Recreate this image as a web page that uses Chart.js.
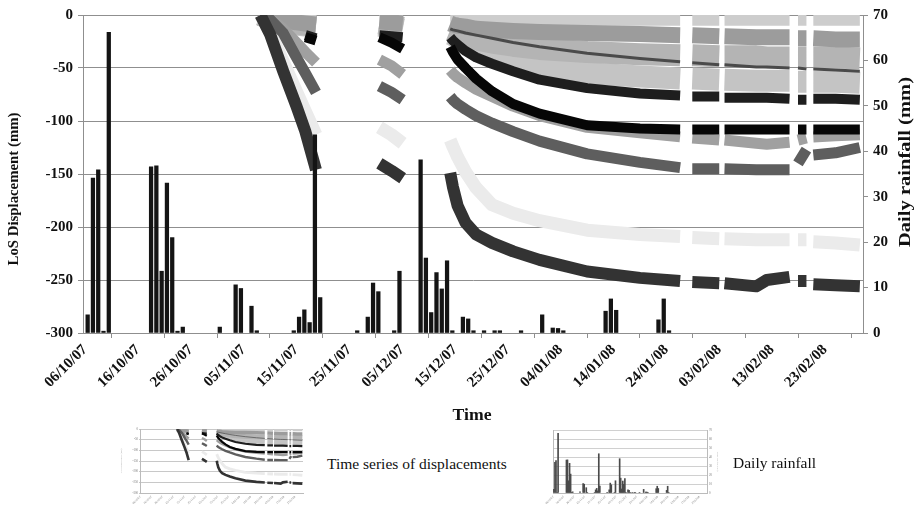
<!DOCTYPE html>
<html>
<head>
<meta charset="utf-8">
<script src="https://cdn.jsdelivr.net/npm/chart.js@4.4.1/dist/chart.umd.min.js"></script>
<style>
body{margin:0;background:#fff;width:921px;height:508px;overflow:hidden;position:relative;font-family:"Liberation Serif",serif;}
canvas{position:absolute;}
#main{left:0;top:0;}
#thumbDisp{left:118px;top:424px;}
#thumbRain{left:540px;top:424px;}
.cap{position:absolute;font-size:15.5px;color:#111;white-space:nowrap;}
</style>
</head>
<body>
<canvas id="main" width="921" height="430"></canvas>
<canvas id="thumbDisp" width="192" height="84"></canvas>
<div class="cap" style="left:327px;top:455px">Time series of displacements</div>
<canvas id="thumbRain" width="180" height="84"></canvas>
<div class="cap" style="left:733px;top:454px">Daily rainfall</div>
<script>
// x axis: days counted from 06/10/07
const tickDays = [0,10,20,30,40,50,60,70,80,90,100,110,120,130,140];
const tickLabels = ['06/10/07','16/10/07','26/10/07','05/11/07','15/11/07','25/11/07','05/12/07','15/12/07',
	'25/12/07','04/01/08','14/01/08','24/01/08','03/02/08','13/02/08','23/02/08'];
const dayMin = -0.38, dayMax = 147.2;

// daily rainfall (mm)
const rainDays = [0,1,2,3,4,12,13,14,15,16,17,18,25,28,29,31,32,39,40,41,42,43,44,51,53,54,55,58,59,
	63,64,65,66,67,68,69,71,72,73,75,77,78,82,86,88,89,90,98,99,100,108,109,110];
const rainMm = [4.0,34.1,35.9,0.4,66.2,36.6,36.8,13.6,33.0,21.0,0.4,1.3,1.3,10.6,9.8,5.9,0.5,0.5,3.5,5.1,2.3,43.6,7.8,0.5,
	3.5,11.0,9.1,0.5,13.6,38.1,16.5,4.5,13.3,9.7,15.9,0.5,3.5,3.1,0.5,0.5,0.5,0.5,0.5,4.0,1.1,1.0,0.5,4.8,7.5,5.0,2.9,7.5,0.5];

// LoS displacement (mm), sampled on these days; null = no acquisition
const dispDays = [33.2,35,37.5,40,41.7,43.7, 50, 55.7,58,60.1, 65,
	69.1,69.6,70.5,72,74,77,81,86,95,105,112.6, 113.7, 114.9,120, 120.5, 121,127,129,133.3, 134.1, 134.9,136.5, 137.1, 137.8,142,146.6];
const s1 = [-2,-3,-3,-4,-4,-4, null, -3,-3,-4, null, -3,-3,-3,-3,-4,-4,-4,-4,-4,-4,-4, null, -4,-4, null, -4,-4,-4,-4, null, -4,-4, null, -4,-4,-4];
const s2 = [0,-3,-5,-7,-8,-9, null, -6,-7,-8, null, -8,-9,-10,-11,-13,-14,-15,-16,-17,-18,-19, null, -19,-20, null, -20,-21,-21,-21, null, -22,-22, null, -22,-23,-23];
const s3 = [null,null,null,null,null,null, null, null,null,null, null, -13,-14,-15,-17,-19,-22,-26,-30,-36,-41,-44, null, -45,-47, null, -47,-49,-49,-50, null, -50,-51, null, -51,-52,-53];
const s4a = [0,-3,-6,-8,-9,-10, null, -8,-10,-12, null, -14,-15,-17,-20,-23,-26,-29,-32,-35,-37,-38, null, -38,-39, null, -39,-39,-40,-40, null, -40,-40, null, -40,-40,-41];
const s4b = [0,-4,-7,-9,-10,-11, null, -10,-12,-14, null, -18,-19,-22,-26,-31,-37,-44,-50,-55,-58,-60, null, -60,-61, null, -61,-62,-62,-62, null, -63,-63, null, -63,-63,-64];
const s5 = [null,null,null,null,-19,-22, null, -19,-20,-21, null, -21,-24,-28,-34,-40,-46,-53,-61,-69,-74,-76, null, -77,-77, null, -78,-78,-78,-79, null, -80,-80, null, -79,-79,-80];
const s6 = [null,null,null,null,-21,-24, null, -21,-26,-32, null, -30,-35,-42,-50,-60,-72,-84,-93,-104,-107,-108, null, -108,-108, null, -108,-108,-108,-108, null, -108,-108, null, -108,-108,-108];
const s7 = [0,-3,-13,-26,-35,-45, null, -42,-48,-56, null, -52,-55,-59,-64,-70,-77,-86,-95,-106,-111,-115, null, -116,-118, null, -118,-121,-122,-120, null, -118,-116, null, -115,-114,-113];
const s8 = [0,-4,-17,-40,-55,-73, null, -67,-73,-80, null, -77,-80,-84,-89,-95,-102,-110,-119,-131,-139,-144, null, -145,-145, null, -145,-146,-146,-146, null, -140,-127, null, -132,-130,-125];
const s9 = [0,-16,-44,-72,-91,-113, null, -106,-113,-121, null, -118,-124,-134,-148,-163,-179,-187,-194,-203,-207,-209, null, -210,-211, null, -211,-212,-212,-212, null, -212,-212, null, -214,-215,-217];
const s10 = [0,-18,-53,-86,-110,-146, null, -140,-147,-154, null, -149,-162,-180,-196,-207,-215,-223,-231,-242,-248,-251, null, -252,-253, null, -253,-256,-250,-247, null, -251,-251, null, -254,-255,-256];

// drawing styles, first one ends up on top
const seriesList = [
	{data:s3, color:'#4a4a4a', width:3},
	{data:s6, color:'#060606', width:10},
	{data:s5, color:'#1e1e1e', width:10},
	{data:s10, color:'#333333', width:12},
	{data:s8, color:'#5e5e5e', width:11},
	{data:s7, color:'#a0a0a0', width:11},
	{data:s9, color:'#ebebeb', width:13},
	{data:s2, color:'#9c9c9c', width:16},
	{data:s1, color:'#cdcdcd', width:13},
	{data:s4a, color:'#b4b4b4', width:22},
	{data:s4b, color:'#c4c4c4', width:22}
];

Chart.defaults.font.family = '"Liberation Serif", serif';

function toPoints(vals){
	return dispDays.map((d,i)=>({x:d, y:vals[i]}));
}
function rainPoints(){
	return rainDays.map((d,i)=>({x:d+0.5, y:rainMm[i]}));
}
function dateTick(v){
	let i = tickDays.indexOf(v);
	return i<0 ? '' : tickLabels[i];
}
function setDateTicks(scale){
	scale.ticks = tickDays.map(v=>({value:v}));
}

function drawTitle(ctx, text, x, y, rot, len, font){
	ctx.save();
	ctx.font = font;
	ctx.fillStyle = '#111';
	ctx.textAlign = 'center';
	ctx.textBaseline = 'middle';
	ctx.translate(x, y);
	ctx.rotate(rot);
	let w = ctx.measureText(text).width;
	ctx.scale(len/w, 1);
	ctx.fillText(text, 0, 0);
	ctx.restore();
}
const axisTitles = {
	id:'axisTitles',
	afterDraw(chart){
		let ctx = chart.ctx;
		drawTitle(ctx, 'LoS Displacement (mm)', 14, 189, -Math.PI/2, 153, 'bold 15px "Liberation Serif"');
		drawTitle(ctx, 'Daily rainfall (mm)', 906, 162, -Math.PI/2, 170, 'bold 16px "Liberation Serif"');
		drawTitle(ctx, 'Time', 472, 416, 0, 39, 'bold 17px "Liberation Serif"');
	}
};

const gridGray = '#8f8f8f';
const boldTick = {family:'"Liberation Serif", serif', weight:'bold', size:15};

let mainSets = [{
	type:'bar', data:rainPoints(), yAxisID:'y2',
	backgroundColor:'#141414', borderWidth:0, barThickness:3.6
}];
seriesList.forEach(s=>{
	mainSets.push({
		type:'line', data:toPoints(s.data), yAxisID:'y',
		borderColor:s.color, borderWidth:s.width, pointRadius:0,
		borderJoinStyle:'round', borderCapStyle:'butt', spanGaps:false, clip:0
	});
});

new Chart(document.getElementById('main'), {
	type:'line',
	data:{datasets:mainSets},
	plugins:[axisTitles],
	options:{
		responsive:false, animation:false, events:[],
		layout:{padding:{top:15, left:0, right:0, bottom:0}},
		plugins:{legend:{display:false}, tooltip:{enabled:false}},
		scales:{
			x:{
				type:'linear', min:dayMin, max:dayMax, offset:false,
				afterBuildTicks:setDateTicks,
				afterFit:(s)=>{ s.height = 97; },
				ticks:{callback:dateTick, autoSkip:false, minRotation:45, maxRotation:45, padding:3,
					color:'#111', font:{family:'"Liberation Serif", serif', weight:'bold', size:15}},
				grid:{drawOnChartArea:false, tickLength:5, color:gridGray},
				border:{color:gridGray}
			},
			y:{
				position:'left', min:-300, max:0,
				afterFit:(s)=>{ s.width = 83; },
				ticks:{stepSize:50, padding:5, color:'#111', font:boldTick},
				grid:{color:gridGray, tickLength:5},
				border:{color:gridGray}
			},
			y2:{
				position:'right', min:0, max:70,
				afterFit:(s)=>{ s.width = 58; },
				ticks:{stepSize:10, padding:5, color:'#111', font:boldTick},
				grid:{drawOnChartArea:false, tickLength:5, color:gridGray},
				border:{color:gridGray}
			}
		}
	}
});

// small legend pictures
const tinyTick = {size:3};
new Chart(document.getElementById('thumbDisp'), {
	type:'line',
	data:{datasets:seriesList.map(s=>({
		data:toPoints(s.data), borderColor:s.color, borderWidth:Math.max(0.7, s.width*0.22),
		pointRadius:0, spanGaps:false, clip:0
	}))},
	options:{
		responsive:false, animation:false, events:[],
		layout:{padding:{top:5, right:7}},
		plugins:{legend:{display:false}, tooltip:{enabled:false}},
		scales:{
			x:{type:'linear', min:dayMin, max:dayMax, offset:false,
				afterBuildTicks:setDateTicks, afterFit:(s)=>{ s.height = 15; },
				ticks:{callback:dateTick, autoSkip:false, minRotation:45, maxRotation:45, padding:1, color:'#777', font:tinyTick},
				grid:{drawOnChartArea:false, tickLength:1, color:'#bbb'}, border:{color:'#bbb'}},
			y:{min:-300, max:0, afterFit:(s)=>{ s.width = 22; },
				ticks:{stepSize:50, padding:1, color:'#777', font:tinyTick},
				title:{display:true, text:'LoS Displacement (mm)', color:'#bbb', font:{size:2.5}, padding:2},
				grid:{color:'#c8c8c8', tickLength:1}, border:{color:'#bbb'}}
		}
	}
});

new Chart(document.getElementById('thumbRain'), {
	type:'bar',
	data:{datasets:[{data:rainPoints(), yAxisID:'y', backgroundColor:'#4a4a4a', borderWidth:0, barThickness:1}]},
	options:{
		responsive:false, animation:false, events:[],
		layout:{padding:{top:6}},
		plugins:{legend:{display:false}, tooltip:{enabled:false}},
		scales:{
			x:{type:'linear', min:dayMin, max:dayMax, offset:false,
				afterBuildTicks:setDateTicks, afterFit:(s)=>{ s.height = 15; },
				ticks:{callback:dateTick, autoSkip:false, minRotation:45, maxRotation:45, padding:1, color:'#777', font:tinyTick},
				grid:{drawOnChartArea:false, tickLength:1, color:'#bbb'}, border:{color:'#bbb'}},
			yl:{position:'left', min:0, max:70, afterFit:(s)=>{ s.width = 13; },
				ticks:{display:false}, grid:{drawOnChartArea:false, drawTicks:false}, border:{color:'#bbb'}},
			y:{position:'right', min:0, max:70, afterFit:(s)=>{ s.width = 13; },
				ticks:{stepSize:10, padding:1, color:'#777', font:tinyTick},
				title:{display:true, text:'Daily rainfall (mm)', color:'#bbb', font:{size:2.5}, padding:1},
				grid:{color:'#d0d0d0', tickLength:1}, border:{color:'#bbb'}}
		}
	}
});
</script>
</body>
</html>
